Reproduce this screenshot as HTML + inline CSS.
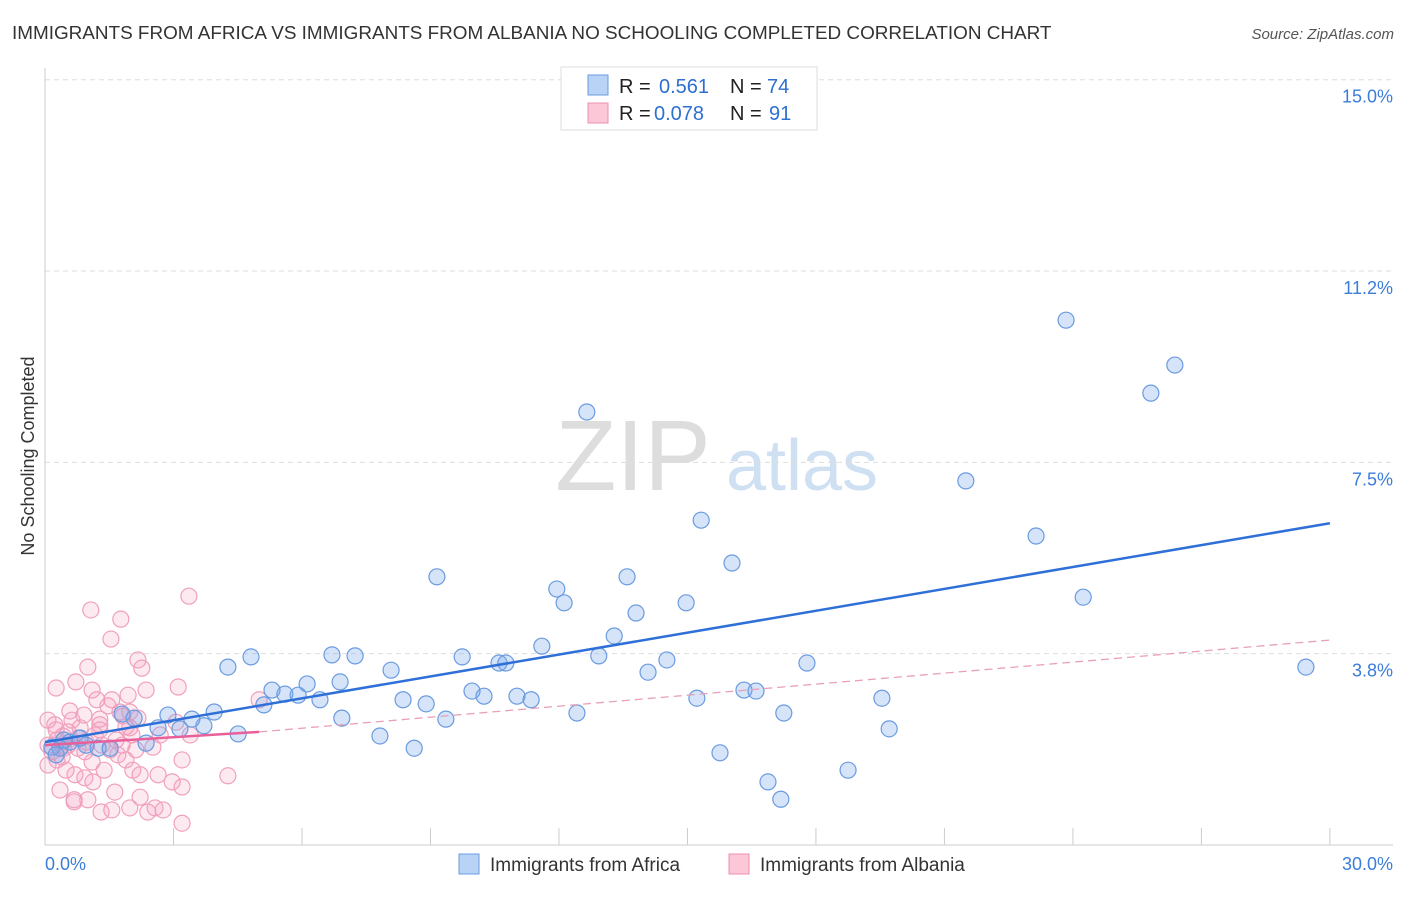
<!DOCTYPE html>
<html><head><meta charset="utf-8"><style>
body{margin:0;background:#fff;font-family:"Liberation Sans",sans-serif;}
svg text{font-family:"Liberation Sans",sans-serif;}
</style></head><body>
<svg id="chart" width="1406" height="892" xmlns="http://www.w3.org/2000/svg">
<text x="12" y="39" font-size="18.9" fill="#333">IMMIGRANTS FROM AFRICA VS IMMIGRANTS FROM ALBANIA NO SCHOOLING COMPLETED CORRELATION CHART</text>
<text x="1394" y="39" font-size="15" fill="#555" font-style="italic" text-anchor="end">Source: ZipAtlas.com</text>
<text x="633" y="490" font-size="100" fill="#ddd" font-family="Liberation Serif" text-anchor="middle">ZIP</text>
<text x="802" y="490" font-size="72" fill="#cfe0f3" text-anchor="middle">atlas</text>
<text x="34" y="456" font-size="18" fill="#333" text-anchor="middle" transform="rotate(-90 34 456)">No Schooling Completed</text>
<g id="grid"></g><g id="pts"></g><g id="trends"></g>
<g>
<rect x="561" y="67" width="256" height="63" fill="#fff" stroke="#ddd"/>
<rect x="588" y="75" width="20" height="20" fill="#b8d3f5" stroke="#6a9be0"/>
<rect x="588" y="103" width="20" height="20" fill="#fcc7d7" stroke="#ee8fb0"/>
<text x="619" y="93" font-size="20" fill="#222">R = </text><text x="659" y="93" font-size="20" fill="#2f6fd0">0.561</text>
<text x="730" y="93" font-size="20" fill="#222">N = </text><text x="767" y="93" font-size="20" fill="#2f6fd0">74</text>
<text x="619" y="120" font-size="20" fill="#222">R = </text><text x="654" y="120" font-size="20" fill="#2f6fd0">0.078</text>
<text x="730" y="120" font-size="20" fill="#222">N = </text><text x="769" y="120" font-size="20" fill="#2f6fd0">91</text>
</g>
<g>
<rect x="459" y="854" width="20" height="20" fill="#b8d3f5" stroke="#6a9be0"/>
<text x="490" y="871" font-size="19" fill="#333">Immigrants from Africa</text>
<rect x="729" y="854" width="20" height="20" fill="#fcc7d7" stroke="#ee8fb0"/>
<text x="760" y="871" font-size="19" fill="#333">Immigrants from Albania</text>
</g>
<text x="45" y="870" font-size="18" fill="#3b7dd8">0.0%</text>
<text x="1393" y="870" font-size="18" fill="#3b7dd8" text-anchor="end">30.0%</text>
</svg>
<script>
const blueX=[23.84,26.38,25.82,12.65,21.50,15.32,23.14,16.04,9.15,13.59,11.95,12.12,14.97,13.80,24.24,13.29,11.60,6.70,7.24,4.81,9.74,4.27,10.60,10.76,12.93,14.52,17.79,29.44,8.08,6.89,14.08,5.30,5.60,5.91,6.12,6.42,9.97,10.25,11.02,11.35,16.32,16.60,15.22,19.54,8.36,8.90,3.95,5.11,2.08,2.87,3.43,3.15,3.71,2.64,6.93,9.36,12.42,17.25,4.51,7.82,19.71,1.80,2.36,8.62,15.76,16.88,18.75,17.18,1.24,1.52,0.96,0.58,0.35,0.16,0.26,0.44,0.82];
const blueY=[10.62,9.74,9.19,8.82,7.47,6.70,6.39,5.86,5.59,5.59,5.35,5.08,5.08,4.88,5.19,4.43,4.23,4.06,4.04,4.02,4.02,3.82,3.90,3.90,4.04,3.96,3.90,3.82,3.76,3.53,3.72,3.37,3.29,3.27,3.49,3.18,3.35,3.25,3.25,3.18,3.37,3.35,3.21,3.21,3.18,3.10,2.94,3.08,2.82,2.88,2.80,2.61,2.67,2.63,2.82,2.80,2.92,2.92,2.51,2.47,2.61,2.90,2.33,2.23,2.14,1.57,1.80,1.23,2.23,2.23,2.29,2.35,2.23,2.25,2.10,2.39,2.43];
const pinkX=[1.07,3.36,1.77,1.54,2.17,2.26,1.00,0.26,1.10,0.72,3.11,2.36,5.00,1.82,1.98,0.58,1.28,1.66,4.27,3.20,3.20,1.31,0.68,2.57,1.98,2.22,1.63,0.35,0.07,0.23,0.42,0.16,0.28,0.54,0.77,0.96,1.17,1.33,1.52,1.70,1.89,2.05,2.22,0.49,0.70,0.93,1.12,1.38,2.64,2.97,3.20,2.52,2.03,1.89,1.75,1.47,1.21,0.93,1.10,0.40,0.07,0.77,1.98,2.17,2.76,2.40,1.00,0.68,1.56,0.28,0.54,0.82,1.28,1.80,2.12,3.06,3.39,2.69,1.56,1.94,1.28,0.63,0.91,0.26,0.07,0.44];
const pinkY=[4.94,5.21,4.76,4.37,3.96,3.80,3.82,3.41,3.37,3.53,3.43,3.37,3.18,2.86,2.94,2.96,2.80,2.39,1.69,0.76,1.47,0.98,1.22,1.06,1.06,1.27,1.37,1.41,2.78,2.69,2.47,2.16,2.00,2.29,2.23,2.35,2.49,2.29,2.20,2.10,2.00,1.80,1.71,1.80,1.71,1.65,1.57,1.80,1.71,1.57,2.00,2.25,2.49,2.65,2.94,3.06,3.18,2.16,1.96,2.06,1.90,2.43,2.63,2.82,1.02,0.98,1.22,1.18,1.02,2.39,2.55,2.63,2.69,2.29,2.20,2.74,2.49,2.49,3.18,3.27,2.59,2.78,2.88,2.59,2.29,2.23];
const yTicks=[15,11.25,7.5,3.75];
const yTickLabels=["15.0%","11.2%","7.5%","3.8%"];
const xTicks=[0,3,6,9,12,15,18,21,24,27,30];
const blueTrendX=[0,30], blueTrendY=[2.35,6.64];
const pinkSolidX=[0,5], pinkSolidY=[2.29,2.55];
const pinkDashX=[5,30], pinkDashY=[2.55,4.35];

const NS="http://www.w3.org/2000/svg";
const xS=v=>45+v*42.83;
const yS=v=>862-v*51.02;
function mk(tag,attrs,parent){const e=document.createElementNS(NS,tag);for(const k in attrs)e.setAttribute(k,attrs[k]);document.getElementById(parent).appendChild(e);return e;}
yTicks.forEach((t,i)=>{
  const g=mk('line',{x1:45,x2:1393,y1:yS(t)-17,y2:yS(t)-17,stroke:'#ddd','stroke-dasharray':'5,4'},'grid');
  
  
  const l=mk('text',{x:1393,y:yS(t)+6,'font-size':18,fill:'#3b7dd8','text-anchor':'end'},'grid');
  l.textContent=yTickLabels[i];
  
  
});
const ax=mk('line',{x1:45,x2:45,y1:68,y2:845,stroke:'#ccc'},'grid');


const bx=mk('line',{x1:45,x2:1393,y1:845,y2:845,stroke:'#ccc'},'grid');


xTicks.forEach(t=>{
  const k=mk('line',{x1:xS(t),x2:xS(t),y1:828,y2:845,stroke:'#ccc'},'grid');
  
  
});
pinkX.forEach((v,i)=>{
  const c=mk('circle',{cx:xS(v),cy:yS(pinkY[i]),r:8,fill:'rgba(246,160,190,0.22)',stroke:'#f0a0bc','stroke-width':1.2},'pts');
  
  
});
blueX.forEach((v,i)=>{
  const c=mk('circle',{cx:xS(v),cy:yS(blueY[i]),r:8,fill:'rgba(120,165,235,0.3)',stroke:'#6a9be0','stroke-width':1.2},'pts');
  
  
});
const bt=mk('line',{x1:xS(blueTrendX[0]),y1:yS(blueTrendY[0]),x2:xS(blueTrendX[1]),y2:yS(blueTrendY[1]),stroke:'#2f70d8','stroke-width':2.5},'trends');


const pd=mk('line',{x1:xS(pinkDashX[0]),y1:yS(pinkDashY[0]),x2:xS(pinkDashX[1]),y2:yS(pinkDashY[1]),stroke:'#e8a0b8','stroke-width':1.3,'stroke-dasharray':'8,5'},'trends');


const ps=mk('line',{x1:xS(pinkSolidX[0]),y1:yS(pinkSolidY[0]),x2:xS(pinkSolidX[1]),y2:yS(pinkSolidY[1]),stroke:'#e8609a','stroke-width':2.5},'trends');


</script>
</body></html>
